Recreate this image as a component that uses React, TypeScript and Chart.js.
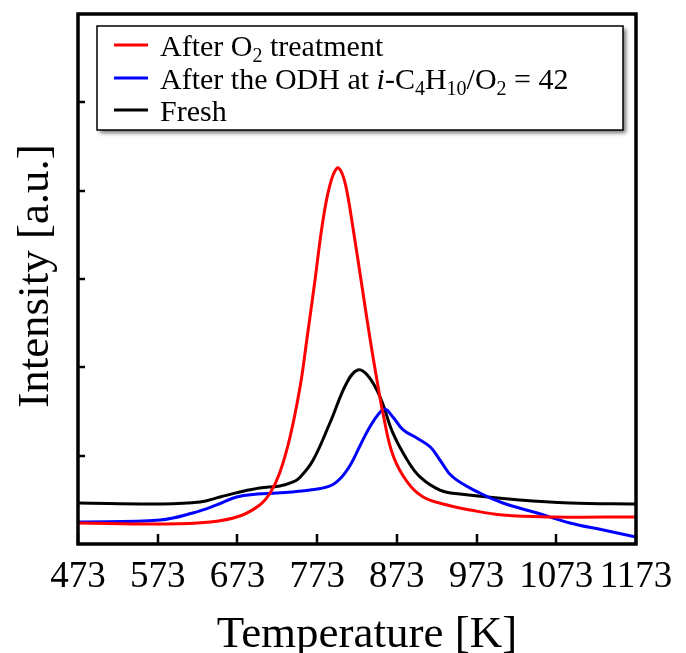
import React, { useEffect, useRef } from "react";
import { Chart, registerables } from "chart.js";

Chart.register(...registerables);

// ---- Data ----
const xTickValues = [473, 573, 673, 773, 873, 973, 1073, 1173];
const yTickValues = [1, 2, 3, 4, 5];

const o2TreatTemp = [473, 576, 639, 676, 701, 714, 726, 739, 752, 760, 770, 780, 789, 798, 804, 810, 818, 829, 839, 848, 856, 868, 886, 906, 936, 965, 1006, 1069, 1173];
const o2TreatInt = [0.238, 0.226, 0.249, 0.317, 0.442, 0.577, 0.804, 1.211, 1.8, 2.31, 2.966, 3.645, 4.064, 4.257, 4.2, 4.008, 3.577, 2.932, 2.343, 1.857, 1.46, 1.008, 0.702, 0.532, 0.442, 0.385, 0.328, 0.306, 0.306];

const odhTemp = [473, 576, 617, 647, 672, 698, 723, 764, 790, 803, 815, 826, 839, 851, 858, 868, 881, 898, 915, 927, 943, 977, 1006, 1049, 1090, 1132, 1173];
const odhInt = [0.249, 0.272, 0.351, 0.442, 0.532, 0.566, 0.577, 0.611, 0.66, 0.75, 0.9, 1.098, 1.325, 1.483, 1.528, 1.438, 1.291, 1.2, 1.098, 0.951, 0.759, 0.577, 0.464, 0.351, 0.238, 0.158, 0.079];

const freshTemp = [473, 576, 626, 651, 676, 701, 726, 743, 752, 768, 789, 810, 824, 837, 852, 868, 886, 902, 927, 952, 1027, 1090, 1173];
const freshInt = [0.464, 0.453, 0.475, 0.532, 0.589, 0.634, 0.657, 0.702, 0.759, 0.951, 1.37, 1.823, 1.97, 1.902, 1.664, 1.257, 0.951, 0.759, 0.611, 0.566, 0.498, 0.464, 0.453];

const xTitle = "Temperature [K]";
const yTitle = "Intensity [a.u.]";

type Seg = { t: string; sub?: boolean; it?: boolean };
const legendItems: { color: string; segs: Seg[] }[] = [
  { color: "#ff0000", segs: [{ t: "After O" }, { t: "2", sub: true }, { t: " treatment" }] },
  {
    color: "#0000ff",
    segs: [
      { t: "After the ODH at " },
      { t: "i", it: true },
      { t: "-C" },
      { t: "4", sub: true },
      { t: "H" },
      { t: "10", sub: true },
      { t: "/O" },
      { t: "2", sub: true },
      { t: " = 42" },
    ],
  },
  { color: "#000000", segs: [{ t: "Fresh" }] },
];

const FONT = "'Liberation Serif', 'Times New Roman', serif";

const toPoints = (xs: number[], ys: number[]) => xs.map((x, i) => ({ x, y: ys[i] }));

const decorPlugin = {
  id: "decor",
  afterDatasetsDraw(chart: any) {
    const { ctx, chartArea: a, scales } = chart;
    ctx.save();
    ctx.strokeStyle = "#000";
    ctx.lineCap = "butt";
    // inward ticks
    ctx.lineWidth = 2.5;
    for (const v of xTickValues) {
      const px = Math.round(scales.x.getPixelForValue(v));
      ctx.beginPath();
      ctx.moveTo(px, a.bottom);
      ctx.lineTo(px, a.bottom - 10);
      ctx.stroke();
    }
    for (const v of yTickValues) {
      const py = Math.round(scales.y.getPixelForValue(v));
      ctx.beginPath();
      ctx.moveTo(a.left, py);
      ctx.lineTo(a.left + 7, py);
      ctx.stroke();
    }
    // frame
    ctx.lineWidth = 3.5;
    ctx.strokeRect(a.left, a.top, a.right - a.left, a.bottom - a.top);

    // axis titles
    ctx.fillStyle = "#000";
    ctx.font = `45px ${FONT}`;
    ctx.textAlign = "center";
    ctx.textBaseline = "alphabetic";
    ctx.fillText(xTitle, (a.left + a.right) / 2 + 10, 647);
    ctx.save();
    ctx.translate(48, (a.top + a.bottom) / 2 - 3);
    ctx.rotate(-Math.PI / 2);
    ctx.font = `45px ${FONT}`;
    ctx.fillText(yTitle, 0, 0);
    ctx.restore();

    // legend
    const bx = 97, by = 26, bw = 526, bh = 104;
    ctx.save();
    ctx.shadowColor = "rgba(0,0,0,0.55)";
    ctx.shadowBlur = 4;
    ctx.shadowOffsetX = 3;
    ctx.shadowOffsetY = 3;
    ctx.fillStyle = "#fff";
    ctx.fillRect(bx, by, bw, bh);
    ctx.restore();
    ctx.lineWidth = 1.5;
    ctx.strokeStyle = "#000";
    ctx.strokeRect(bx, by, bw, bh);
    const rows = [45, 78, 110];
    legendItems.forEach((item, i) => {
      const y = rows[i];
      ctx.strokeStyle = item.color;
      ctx.lineWidth = 3;
      ctx.beginPath();
      ctx.moveTo(114, y);
      ctx.lineTo(148, y);
      ctx.stroke();
      let x = 160;
      const base = y + 11;
      ctx.textAlign = "left";
      ctx.fillStyle = "#000";
      for (const s of item.segs) {
        const size = s.sub ? 20 : 30;
        ctx.font = `${s.it ? "italic " : ""}${size}px ${FONT}`;
        ctx.fillText(s.t, x, s.sub ? base + 6 : base);
        x += ctx.measureText(s.t).width;
      }
    });
    ctx.restore();
  },
};

export default function App() {
  const ref = useRef<HTMLCanvasElement | null>(null);
  useEffect(() => {
    document.body.style.margin = "0";
    const canvas = ref.current;
    if (!canvas) return;
    const line = (label: string, data: any, color: string) => ({
      label,
      data,
      borderColor: color,
      borderWidth: 3,
      pointRadius: 0,
      tension: 0.4,
    });
    const chart = new Chart(canvas, {
      type: "line",
      data: {
        datasets: [
          line("After O2 treatment", toPoints(o2TreatTemp, o2TreatInt), "#ff0000"),
          line("After the ODH at i-C4H10/O2 = 42", toPoints(odhTemp, odhInt), "#0000ff"),
          line("Fresh", toPoints(freshTemp, freshInt), "#000000"),
        ],
      },
      options: {
        responsive: false,
        animation: false,
        devicePixelRatio: 1,
        layout: { padding: { left: 0, right: 50, top: 14, bottom: 0 } },
        plugins: { legend: { display: false }, tooltip: { enabled: false } },
        scales: {
          x: {
            type: "linear",
            min: 473,
            max: 1173,
            afterBuildTicks: (s: any) => {
              s.ticks = xTickValues.map((v) => ({ value: v }));
            },
            afterFit: (s: any) => {
              s.height = 109;
            },
            grid: { display: false, drawTicks: false },
            border: { display: false },
            ticks: {
              color: "#000",
              font: { family: FONT, size: 37 },
              padding: 11,
              maxRotation: 0,
              autoSkip: false,
              callback: (v: any) => String(v),
            },
          },
          y: {
            type: "linear",
            min: 0,
            max: 6,
            afterBuildTicks: (s: any) => {
              s.ticks = yTickValues.map((v) => ({ value: v }));
            },
            afterFit: (s: any) => {
              s.width = 78;
            },
            grid: { display: false, drawTicks: false },
            border: { display: false },
            ticks: { display: false },
          },
        },
      },
      plugins: [decorPlugin],
    } as any);
    return () => chart.destroy();
  }, []);
  return (
    <div style={{ width: 686, height: 653 }}>
      <canvas ref={ref} width={686} height={653} />
    </div>
  );
}
